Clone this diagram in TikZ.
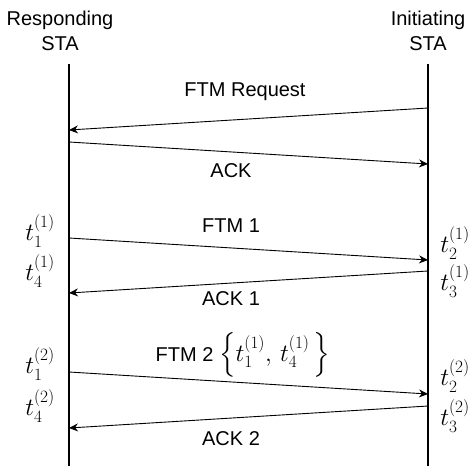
\documentclass[tikz,border=0pt]{standalone}
\usepackage{amsmath}
\usepackage{fontspec}
\setmainfont{Liberation Sans}
\usetikzlibrary{arrows.meta}
\begin{document}
\begin{tikzpicture}[x=1pt,y=-1pt,
  lifeline/.style={line width=1.5pt},
  msg/.style={line width=0.9pt,-{Stealth[length=9pt,width=8pt]}},
  lbl/.style={font=\fontsize{20}{24.5}\selectfont,inner sep=0pt},
  ts/.style={font=\fontsize{23}{27}\selectfont,inner sep=0pt}]
\useasboundingbox (0,0) rectangle (473,466);
% headers
\node[lbl,align=center] (resp) at (60,31) {Responding\\STA};
\node[lbl,align=center] (init) at (428,31) {Initiating\\STA};
% lifelines
\coordinate (lt) at (69,64); \coordinate (lb) at (69,466);
\coordinate (rt) at (428,64); \coordinate (rb) at (428,466);
\draw[lifeline] (lt) -- (lb);
\draw[lifeline] (rt) -- (rb);
% endpoints
\coordinate (r1) at (428,108); \coordinate (l1) at (69,130);
\coordinate (l2) at (69,142); \coordinate (r2) at (428,164);
\coordinate (l3) at (69,238); \coordinate (r3) at (428,260);
\coordinate (r4) at (428,271); \coordinate (l4) at (69,293);
\coordinate (l5) at (69,372); \coordinate (r5) at (428,394);
\coordinate (r6) at (428,406); \coordinate (l6) at (69,428);
% messages
\draw[msg] (r1) -- (l1);
\draw[msg] (l2) -- (r2);
\draw[msg] (l3) -- (r3);
\draw[msg] (r4) -- (l4);
\draw[msg] (l5) -- (r5);
\draw[msg] (r6) -- (l6);
% labels
\node[lbl] (m1) at (245,92) {FTM Request};
\node[lbl] (m2) at (231,171) {ACK};
\node[lbl] (m3) at (231,226) {FTM 1};
\node[lbl] (m4) at (231,299) {ACK 1};
\node[lbl] (m5) at (243,355) {FTM 2 {\fontsize{23}{27}\selectfont$\Bigl\{t_1^{(1)},\,t_4^{(1)}\,\Bigr\}$}};
\node[lbl] (m6) at (231,439) {ACK 2};
% timestamps
\node[ts] (a1) at (40,231) {$t_1^{(1)}$};
\node[ts] (a4) at (40,271) {$t_4^{(1)}$};
\node[ts] (a2) at (455,243) {$t_2^{(1)}$};
\node[ts] (a3) at (455,281) {$t_3^{(1)}$};
\node[ts] (b1) at (40,364) {$t_1^{(2)}$};
\node[ts] (b4) at (40,406) {$t_4^{(2)}$};
\node[ts] (b2) at (455,376) {$t_2^{(2)}$};
\node[ts] (b3) at (455,416) {$t_3^{(2)}$};
\end{tikzpicture}
\end{document}
